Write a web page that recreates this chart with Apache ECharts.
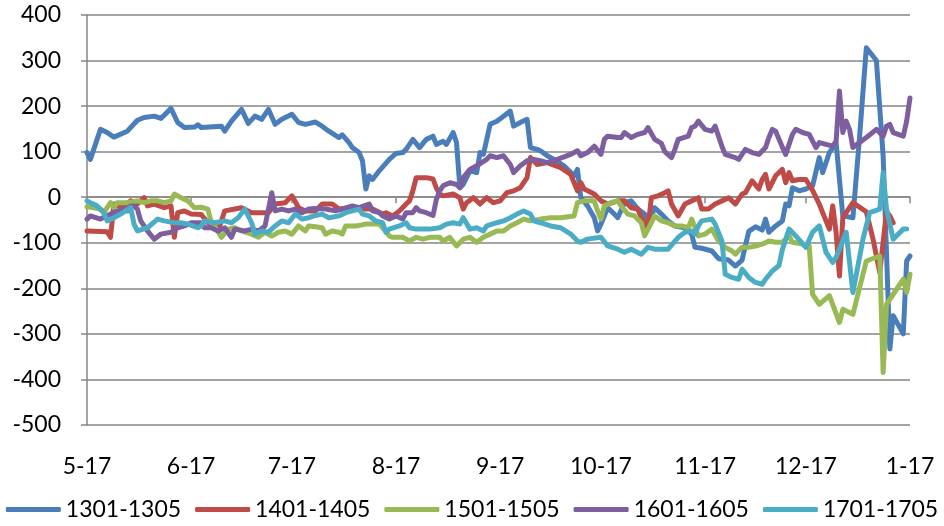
<!DOCTYPE html>
<html>
<head>
<meta charset="utf-8">
<script src="https://cdn.jsdelivr.net/npm/echarts@6/dist/echarts.min.js"></script>
<style>
html,body{margin:0;padding:0;background:#fff;}
#chart{width:944px;height:526px;}
</style>
</head>
<body>
<div id="chart"></div>
<script>
// Axis: calendar days from May 17 to Jan 17 (day offsets 0..245)
const startYear = 2016, startMonth = 4, startDay = 17, dayCount = 246;
const yTicks = { min: -500, max: 400, interval: 100 };
const seriesNames = ['1301-1305', '1401-1405', '1501-1505', '1601-1605', '1701-1705'];
const seriesColors = ['#4A7EBB', '#BE4B48', '#98B954', '#7D5FA0', '#4BACC6'];

// 1301-1305 (day offset, value)
const days1301 = [0,1,4,6,8,12,13,15,17,20,22,25,27,29,32,33,34,40,41,43,46,48,50,52,54,56,58,61,63,65,68,70,72,75,76,78,79,81,82,83,84,85,87,90,92,94,95,97,99,101,103,104,106,107,109,110,111,112,114,116,117,118,120,122,124,126,127,129,131,132,134,135,137,139,142,145,146,147,149,151,152,153,155,157,158,160,162,164,166,167,169,171,173,175,178,180,181,183,186,188,191,193,195,197,199,201,202,203,205,207,208,209,210,212,214,216,218,219,221,223,225,228,230,232,235,237,239,240,243,244,245];
const vals1301 = [98,83,149,142,132,145,153,169,175,178,173,195,164,153,154,159,153,156,145,167,193,162,178,171,193,160,171,182,164,160,165,156,145,131,137,120,109,98,80,18,47,39,58,83,96,98,105,127,109,127,134,116,123,116,142,120,21,28,58,54,98,94,160,167,178,189,156,164,171,109,105,102,91,83,69,47,61,-1,-19,-45,-74,-59,-23,-37,-45,-12,-8,-26,-37,-59,-23,-37,-52,-63,-67,-81,-110,-112,-118,-135,-138,-151,-138,-75,-65,-72,-48,-77,-63,-52,-15,-19,21,14,18,25,87,54,98,120,-41,-45,134,328,300,91,-333,-260,-300,-140,-129];

// 1401-1405
const days1401 = [0,6,7,8,11,13,15,17,18,20,23,25,26,27,29,31,34,36,38,39,41,44,46,49,52,54,56,59,61,63,65,68,70,73,75,78,82,85,88,89,91,93,95,96,97,98,101,103,104,105,106,109,111,112,113,115,117,119,121,123,125,127,129,131,132,134,137,141,144,146,147,148,151,153,155,158,160,162,164,165,167,168,170,172,173,174,176,178,180,182,183,185,187,189,191,193,195,196,198,200,201,202,203,205,207,208,209,210,212,214,216,218,219,221,222,223,224,225,228,232,234,236,238,239,240];
const vals1401 = [-74,-76,-88,-15,-23,-8,-15,-1,-19,-15,-23,-19,-88,-34,-30,-37,-38,-56,-63,-74,-30,-26,-23,-34,-34,-34,-15,-12,3,-23,-30,-30,-15,-15,-26,-23,-26,-26,-37,-34,-41,-30,-15,-8,14,43,43,40,20,7,3,7,-1,-26,-12,-1,-15,-1,-12,-8,10,14,21,43,87,72,76,65,50,14,32,18,7,-8,-15,-8,-8,-23,-26,-45,-67,-1,3,10,14,-15,-41,-15,-8,-1,-26,-26,-15,-8,-1,-15,7,10,36,18,39,50,18,47,61,32,54,36,39,39,15,-15,-34,-70,-19,-77,-173,-45,-12,-32,-92,-165,-32,-41,-56];

// 1501-1505
const days1501 = [0,2,4,5,7,8,9,12,15,17,19,21,23,25,26,28,30,32,34,36,37,38,40,42,44,46,49,51,53,55,57,59,61,63,65,66,68,70,71,73,75,76,77,80,83,87,88,90,91,94,96,98,100,102,105,106,108,110,112,114,116,118,120,122,124,126,128,130,132,135,138,141,145,146,148,151,152,153,154,156,158,159,161,163,165,166,168,169,171,173,175,177,179,180,182,184,186,188,190,192,193,195,197,199,201,203,205,207,209,210,213,215,216,218,221,224,225,228,232,236,237,238,240,243,244,245];
const vals1501 = [-21,-23,-26,-34,-12,-23,-12,-12,-8,-12,-8,-8,-12,-8,7,-1,-8,-23,-22,-26,-56,-63,-88,-70,-67,-74,-81,-88,-77,-85,-77,-74,-81,-63,-74,-63,-65,-67,-81,-74,-77,-81,-63,-63,-59,-59,-67,-85,-88,-88,-96,-88,-92,-88,-88,-96,-88,-107,-92,-88,-99,-88,-81,-74,-74,-63,-56,-48,-52,-48,-45,-45,-41,-12,-8,-8,-30,-48,-19,-12,-8,-19,-37,-41,-56,-85,-56,-41,-52,-56,-63,-63,-67,-48,-85,-81,-70,-96,-110,-118,-125,-110,-110,-107,-103,-96,-99,-99,-85,-99,-103,-107,-213,-235,-216,-275,-246,-257,-140,-129,-385,-235,-213,-180,-209,-169];

// 1601-1605
const days1601 = [0,1,4,7,9,11,12,13,14,15,16,18,20,22,25,27,29,31,34,35,37,39,41,43,44,47,49,51,53,55,56,58,60,62,64,66,68,71,74,76,79,81,84,85,87,88,90,92,94,95,97,98,99,101,103,104,105,106,108,110,111,112,114,116,119,120,122,124,126,127,129,131,133,135,137,140,144,146,147,149,151,153,154,155,158,159,160,162,164,166,167,169,171,172,174,175,176,179,180,181,182,184,186,187,188,189,190,193,194,196,198,200,202,203,204,205,207,208,210,211,213,215,217,218,222,223,224,225,226,227,228,232,235,237,238,239,240,243,244,245];
const vals1601 = [-48,-41,-48,-37,-30,-26,-30,-19,-19,-26,-52,-74,-92,-81,-77,-67,-63,-56,-56,-67,-67,-74,-67,-88,-70,-74,-70,-74,-63,10,-30,-26,-30,-26,-34,-26,-25,-26,-30,-26,-19,-23,-15,-30,-34,-41,-48,-41,-48,-34,-34,-23,-30,-34,-40,-5,14,25,32,28,21,43,61,69,83,91,87,91,72,54,69,80,83,80,76,83,94,102,91,98,112,94,127,134,131,131,142,131,138,142,153,127,118,100,87,105,127,134,153,156,167,149,145,156,134,112,94,87,83,105,98,94,109,131,149,145,110,94,138,149,142,138,109,120,112,123,233,142,167,149,109,131,149,134,156,160,142,134,167,218];

// 1701-1705
const days1701 = [0,1,3,5,6,8,10,13,14,15,18,21,23,26,28,30,33,34,35,38,41,43,45,47,49,50,52,54,56,58,60,62,64,66,68,70,72,75,77,79,81,82,84,86,88,89,90,93,95,96,98,100,102,105,107,109,111,112,114,116,118,119,122,124,126,128,130,132,133,135,138,141,144,146,147,149,153,155,158,160,162,165,167,169,171,173,176,178,180,181,182,183,186,187,189,190,192,194,195,197,199,201,202,204,206,207,209,211,214,216,218,220,222,223,226,228,231,233,236,237,238,240,243,244];
const vals1701 = [-8,-12,-19,-34,-52,-45,-37,-23,-59,-74,-67,-48,-52,-56,-56,-59,-67,-63,-52,-56,-52,-56,-45,-26,-56,-81,-74,-77,-63,-52,-56,-37,-48,-45,-40,-37,-45,-41,-34,-30,-26,-37,-41,-52,-56,-77,-70,-63,-56,-67,-70,-70,-70,-67,-59,-56,-59,-45,-70,-67,-74,-63,-56,-52,-45,-37,-30,-37,-52,-56,-63,-67,-81,-96,-99,-92,-88,-107,-114,-121,-114,-125,-110,-114,-114,-114,-88,-77,-74,-81,-63,-52,-48,-59,-96,-169,-176,-180,-158,-176,-187,-191,-180,-162,-150,-115,-70,-85,-110,-77,-63,-121,-143,-132,-77,-209,-92,-34,-26,54,-26,-92,-70,-70];

const seriesDays = [days1301, days1401, days1501, days1601, days1701];
const seriesVals = [vals1301, vals1401, vals1501, vals1601, vals1701];

const categories = [];
const isLabelDay = [];
for (let i = 0; i < dayCount; i++) {
  const d = new Date(startYear, startMonth, startDay + i);
  categories.push((d.getMonth() + 1) + '-' + d.getDate());
  isLabelDay.push(d.getDate() === 17);
}

const FONT = 'Lato, "Open Sans", sans-serif';
const chart = echarts.init(document.getElementById('chart'));
chart.setOption({
  animation: false,
  backgroundColor: '#ffffff',
  grid: { left: 87, right: 34, top: 15, bottom: 101, containLabel: false },
  legend: {
    data: seriesNames,
    left: 'center',
    top: 493,
    icon: 'roundRect',
    itemWidth: 55,
    itemHeight: 5,
    itemGap: 14,
    textStyle: { fontFamily: FONT, fontSize: 23, color: '#000' }
  },
  xAxis: {
    type: 'category',
    data: categories,
    boundaryGap: false,
    axisLine: { lineStyle: { color: '#868686', width: 1.5 } },
    axisTick: { show: true, length: 6, interval: (i) => isLabelDay[i], lineStyle: { color: '#868686', width: 1.5 } },
    axisLabel: { interval: (i) => isLabelDay[i], margin: 30, fontFamily: FONT, fontSize: 23, color: '#000' },
    splitLine: { show: false }
  },
  yAxis: {
    type: 'value',
    min: yTicks.min,
    max: yTicks.max,
    interval: yTicks.interval,
    axisLine: { show: true, lineStyle: { color: '#868686', width: 1.5 } },
    axisTick: { show: true, length: 6, lineStyle: { color: '#868686', width: 1.5 } },
    axisLabel: { margin: 26, fontFamily: FONT, fontSize: 23, color: '#000' },
    splitLine: { show: true, lineStyle: { color: '#868686', width: 1.5 } }
  },
  series: seriesNames.map((name, k) => ({
    name: name,
    type: 'line',
    showSymbol: false,
    symbol: 'none',
    color: seriesColors[k],
    lineStyle: { width: 5, color: seriesColors[k], join: 'round', cap: 'round' },
    data: seriesDays[k].map((d, j) => [d, seriesVals[k][j]])
  }))
});
</script>
</body>
</html>
